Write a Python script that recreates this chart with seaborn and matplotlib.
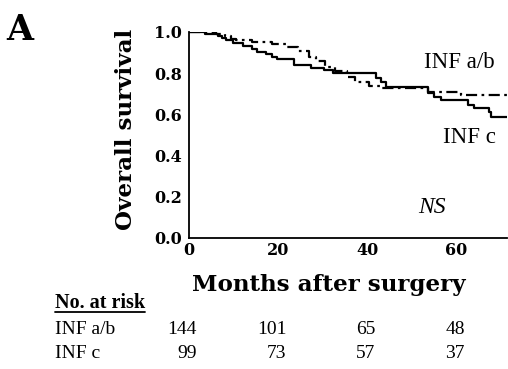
import numpy as np
import pandas as pd
import matplotlib
matplotlib.use("Agg")
import matplotlib.pyplot as plt
import matplotlib.transforms as mtransforms
from matplotlib.lines import Line2D
from matplotlib.ticker import MultipleLocator
import seaborn as sns

# ---- data ----
# INF a/b (dash-dot): step times (months) and survival after each step
t_ab = [0, 6.0, 8.0, 9.4, 10.5, 14.2, 18.7, 21.7, 24.5, 27.0, 28.5, 30.5, 32.8,
        35.4, 37.3, 40.3, 43.3, 53.5, 61.0, 71.3]
s_ab = [1.0, 0.99, 0.98, 0.966, 0.961, 0.953, 0.94, 0.925, 0.91, 0.88, 0.86, 0.83,
        0.81, 0.78, 0.755, 0.737, 0.73, 0.71, 0.694, 0.694]
# INF c (solid)
t_c = [0, 3.6, 6.5, 7.3, 8.3, 9.8, 12.0, 14.2, 15.3, 17.2, 18.7, 19.8, 23.5,
       27.4, 30.3, 32.2, 41.9, 43.0, 44.2, 53.5, 55.0, 56.5, 62.5, 64.0, 67.3,
       67.8, 71.3]
s_c = [1.0, 0.99, 0.98, 0.97, 0.96, 0.945, 0.93, 0.917, 0.905, 0.892, 0.88, 0.868,
       0.84, 0.824, 0.816, 0.80, 0.775, 0.759, 0.733, 0.702, 0.686, 0.67, 0.646,
       0.63, 0.61, 0.589, 0.589]

groups = ["INF a/b", "INF c"]
risk_months = [0, 20, 40, 60]
risk_ab = [144, 101, 65, 48]
risk_c = [99, 73, 57, 37]

x_ticks = [0, 20, 40, 60]
y_ticks = [0.0, 0.2, 0.4, 0.6, 0.8, 1.0]

# ---- figure ----
sns.set_style("white")
plt.rcParams["font.family"] = ["DejaVu Serif", "DejaVu Sans"]
plt.rcParams["text.color"] = "black"
plt.rcParams["axes.labelcolor"] = "black"
plt.rcParams["xtick.color"] = "black"
plt.rcParams["ytick.color"] = "black"

fig = plt.figure(figsize=(5.08, 3.69), dpi=100)
W, H = 508, 369
ax = fig.add_axes([189 / W, 1 - 238 / H, (507 - 189) / W, (238 - 32) / H])

df_ab = pd.DataFrame({"month": t_ab, "surv": s_ab})
df_c = pd.DataFrame({"month": t_c, "surv": s_c})

sns.lineplot(data=df_c, x="month", y="surv", ax=ax, drawstyle="steps-post",
             color="black", lw=1.6, estimator=None, sort=False)
sns.lineplot(data=df_ab, x="month", y="surv", ax=ax, drawstyle="steps-post",
             color="black", lw=1.6, estimator=None, sort=False,
             linestyle=(0, (5, 2, 1.2, 2)))

ax.set_xlim(0, 71.3)
ax.set_ylim(0, 1.0)
ax.set_xticks(x_ticks)
ax.set_yticks(y_ticks)
ax.set_yticklabels([f"{v:.1f}" for v in y_ticks])
ax.xaxis.set_minor_locator(MultipleLocator(10))
ax.yaxis.set_minor_locator(MultipleLocator(0.1))

for side in ["top", "right"]:
    ax.spines[side].set_visible(False)
for side in ["left", "bottom"]:
    ax.spines[side].set_linewidth(1.3)
    ax.spines[side].set_color("black")

ax.tick_params(axis="both", which="major", direction="out", length=4, width=1.1,
               labelsize=11.5, colors="black", pad=1)
ax.tick_params(axis="both", which="minor", direction="out", length=2.5, width=1.0)
ax.tick_params(axis="x", which="both", direction="inout")
for lab in ax.get_xticklabels() + ax.get_yticklabels():
    lab.set_fontfamily("DejaVu Serif")
    lab.set_fontweight("bold")

ax.set_xlabel("Months after surgery", fontsize=16.6, fontweight="bold",
              fontfamily="DejaVu Serif")
ax.xaxis.set_label_coords((329 - 189) / 318, (238 - 285) / 206)
ax.xaxis.label.set_va("center")
ax.set_ylabel("Overall survival", fontsize=16.6, fontweight="bold",
              fontfamily="DejaVu Serif")
ax.yaxis.set_label_coords((126 - 189) / 318, (238 - 129) / 206)
ax.yaxis.label.set_va("center")

# in-plot labels
ax.text(52.8, 0.85, groups[0], fontsize=16.5, fontfamily="Liberation Serif",
        ha="left", va="center")
ax.text(56.9, 0.488, groups[1], fontsize=16.5, fontfamily="Liberation Serif",
        ha="left", va="center")
ax.text(51.3, 0.15, "NS", fontsize=17, fontfamily="Liberation Serif",
        style="italic", ha="left", va="center")

# panel letter
fig.text(6 / W, 1 - 13 / H, "A", fontsize=25, fontweight="bold",
         fontfamily="DejaVu Serif", ha="left", va="top")

# number at risk table
trans = mtransforms.blended_transform_factory(ax.transData, fig.transFigure)
hdr = fig.text(55 / W, 1 - 303 / H, "No. at risk", fontsize=14.5, fontweight="bold",
               fontfamily="Liberation Serif", ha="left", va="center")
rows_y = [1 - 330 / H, 1 - 353 / H]
for g, counts, yy in zip(groups, [risk_ab, risk_c], rows_y):
    fig.text(55 / W, yy, g, fontsize=14, fontfamily="Liberation Serif",
             ha="left", va="center")
    for m, n in zip(risk_months, counts):
        ax.text(m + 1.8, yy, str(n), transform=trans, fontsize=14,
                fontfamily="Liberation Serif", ha="right", va="center",
                clip_on=False)

fig.canvas.draw()
bb = hdr.get_window_extent().transformed(fig.transFigure.inverted())
fig.add_artist(Line2D([bb.x0, bb.x1], [bb.y0 + 0.002, bb.y0 + 0.002],
                      transform=fig.transFigure, color="black", lw=1.3))

fig.savefig("out.png", dpi=100)
